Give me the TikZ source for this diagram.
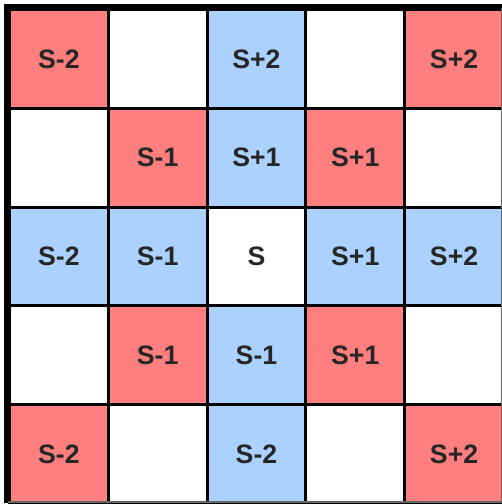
\documentclass[tikz,border=0pt]{standalone}
\usepackage{fontspec}
\setmainfont{Liberation Sans}
\definecolor{pk}{HTML}{FF7F7F}
\definecolor{bl}{HTML}{ABD1FF}
\begin{document}
\begin{tikzpicture}[x=0.75pt,y=-0.75pt,
  cellbox/.style={draw=black,line width=2.2pt,minimum size=74.1pt,inner sep=0pt,anchor=north west,font=\fontsize{20}{20}\selectfont\bfseries,text=black!85},
  P/.style={cellbox,fill=pk},
  B/.style={cellbox,fill=bl},
  W/.style={cellbox,fill=white}]
\useasboundingbox (0,0) rectangle (502,504);
\fill[white] (0,0) rectangle (502,504);
\def\pitch{98.8}
\foreach \r/\row in {1/{P/S-2,W/,B/S+2,W/,P/S+2},
                     2/{W/,P/S-1,B/S+1,P/S+1,W/},
                     3/{B/S-2,B/S-1,W/S,B/S+1,B/S+2},
                     4/{W/,P/S-1,B/S-1,P/S+1,W/},
                     5/{P/S-2,W/,B/S-2,W/,P/S+2}}{
  \foreach \st/\tx [count=\c] in \row {
    \node[\st] (c\r\c) at ({8+(\c-1)*\pitch},{8+(\r-1)*\pitch}) {\tx};
  }
}
\begin{scope}
\clip (0,0) rectangle (502,502.5);
\draw[line width=4.5pt] (7,7) rectangle (508,508);
\end{scope}
\draw[line width=0.8pt,black!60] (501.5,8) -- (501.5,502) -- (8,502);
\end{tikzpicture}
\end{document}
